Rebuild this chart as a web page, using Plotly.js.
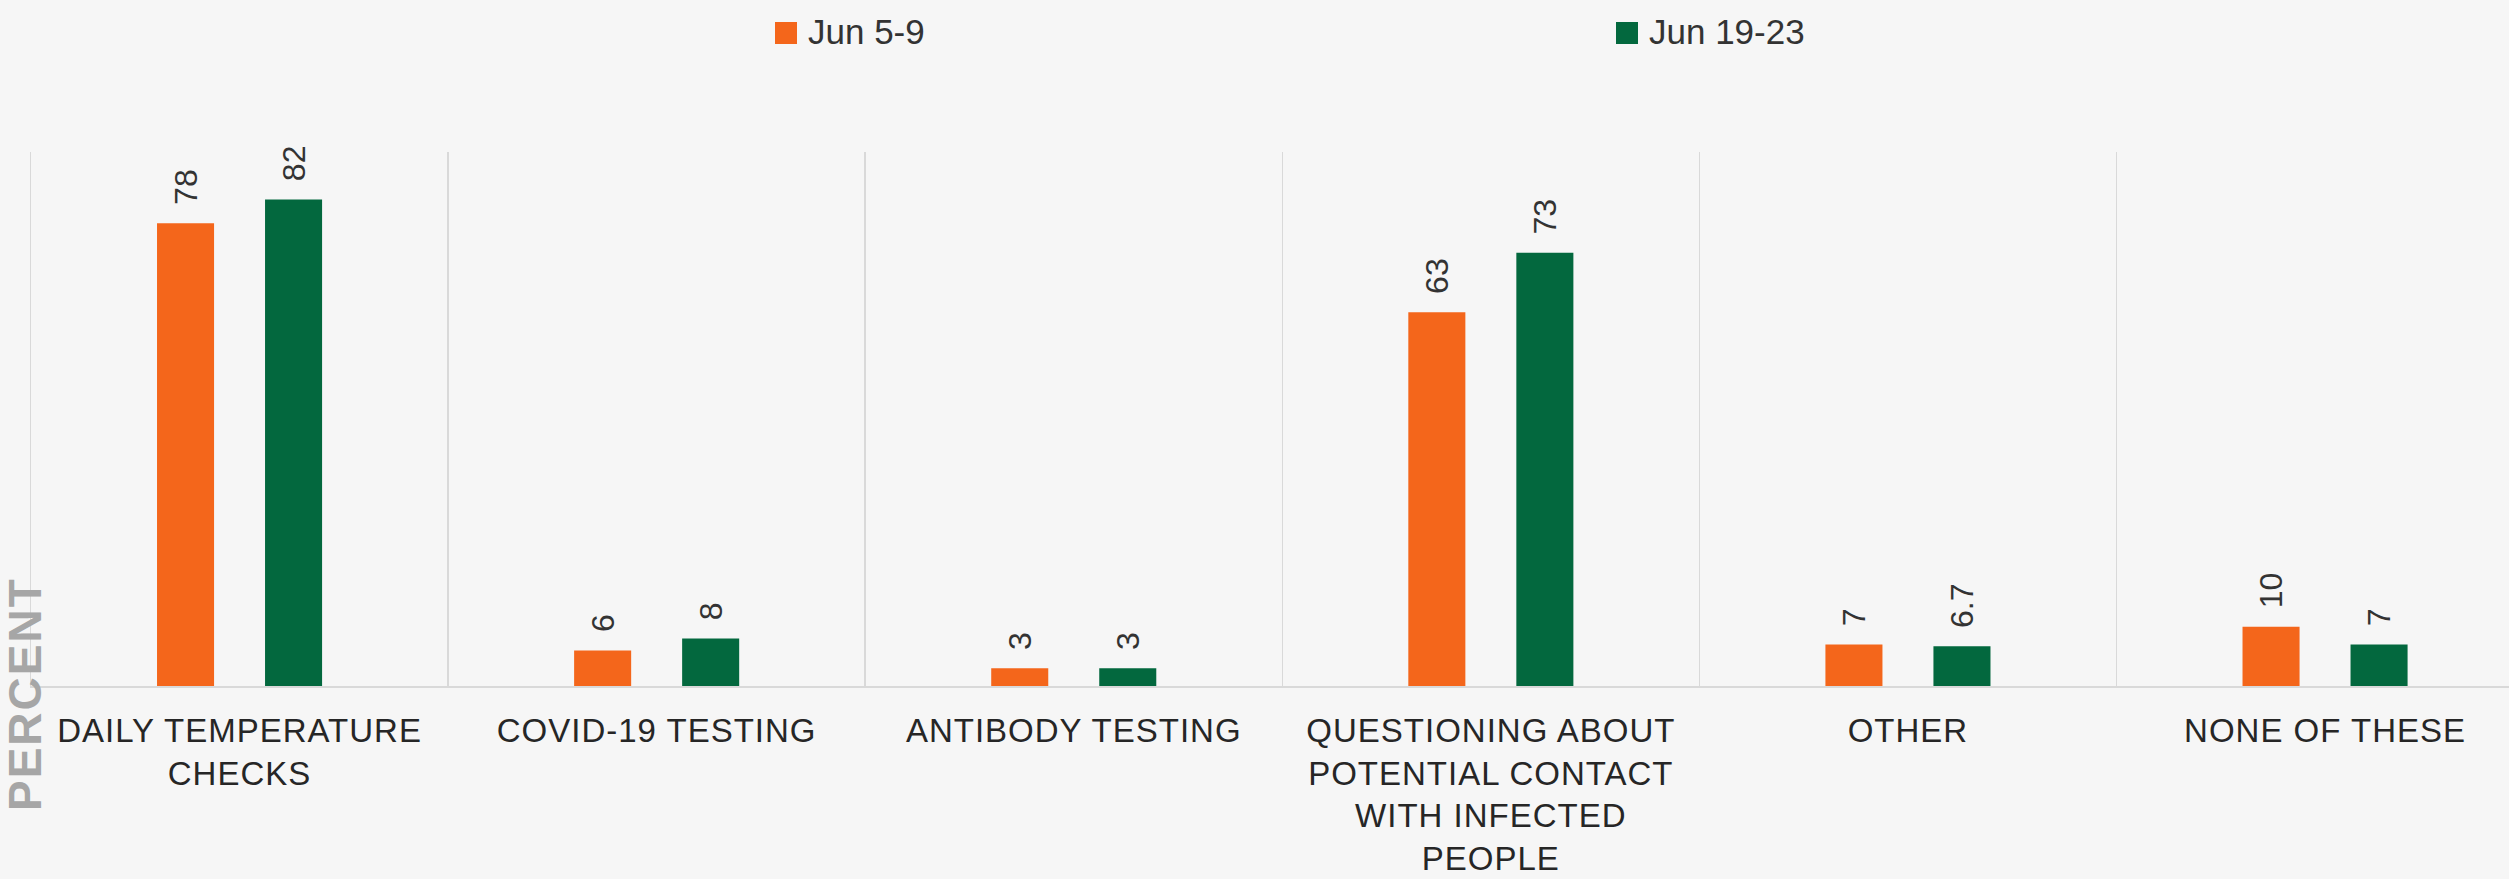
<!DOCTYPE html>
<html>
<head>
<meta charset="utf-8">
<script src="https://cdn.plot.ly/plotly-3.0.1.min.js"></script>
<style>
  html, body { margin: 0; padding: 0; background: #f6f6f6; }
  #chart { width: 2509px; height: 879px; }
  .xtick text { letter-spacing: 1px; }
  .annotation[data-index="0"] text { letter-spacing: 2px; }
</style>
</head>
<body>
<div id="chart"></div>
<script>
// ---- data ----
const categories = [
  'DAILY TEMPERATURE<br>CHECKS',
  'COVID-19 TESTING',
  'ANTIBODY TESTING',
  'QUESTIONING ABOUT<br>POTENTIAL CONTACT<br>WITH INFECTED<br>PEOPLE',
  'OTHER',
  'NONE OF THESE'
];
const seriesNames = ['Jun 5-9', 'Jun 19-23'];
const valuesJun5to9 = [78, 6, 3, 63, 7, 10];
const valuesJun19to23 = [82, 8, 3, 73, 6.7, 7];
const yAxisTitle = 'PERCENT';

// ---- styling ----
const seriesColors = ['#F4661B', '#03683E'];
const sans = "'Liberation Sans', Arial, sans-serif";
const W = 2509, H = 879, L = 31, R = 0, T = 152, B = 193;
const plotW = W - L - R, plotH = H - T - B;
const px2x = p => (p - L) / plotW;
const py2y = p => (H - B - p) / plotH;

const seriesValues = [valuesJun5to9, valuesJun19to23];
const traces = seriesValues.map((vals, i) => ({
  type: 'bar',
  name: seriesNames[i],
  x: categories,
  y: vals,
  marker: { color: seriesColors[i] },
  texttemplate: '\u00a0\u2009%{y}',
  textposition: 'outside',
  textangle: -90,
  constraintext: 'none',
  cliponaxis: false,
  textfont: { family: sans, size: 32, color: '#333333' },
  hoverinfo: 'x+y',
  showlegend: false
}));

// custom legend (large square swatches)
const legendItems = [
  { sq: 775, text: 806 },
  { sq: 1616, text: 1647 }
];
const shapes = legendItems.map((it, i) => ({
  type: 'rect', xref: 'paper', yref: 'paper',
  x0: px2x(it.sq), x1: px2x(it.sq + 22),
  y0: py2y(44), y1: py2y(22),
  fillcolor: seriesColors[i], line: { width: 0 }
}));

const annotations = [
  {
    text: yAxisTitle, xref: 'paper', yref: 'paper',
    x: px2x(25), y: py2y(694), xanchor: 'center', yanchor: 'middle',
    textangle: -90, showarrow: false,
    font: { family: sans, size: 46, color: '#a6a6a6', weight: 'bold' }
  },
  ...legendItems.map((it, i) => ({
    text: seriesNames[i], xref: 'paper', yref: 'paper',
    x: px2x(it.text), y: py2y(32), xanchor: 'left', yanchor: 'middle',
    showarrow: false,
    font: { family: sans, size: 35, color: '#333333' }
  }))
];

const layout = {
  width: W, height: H,
  margin: { l: L, r: R, t: T, b: B, pad: 0 },
  paper_bgcolor: '#f6f6f6',
  plot_bgcolor: 'rgba(0,0,0,0)',
  barmode: 'group',
  bargap: 0.482,
  bargroupgap: 0.472,
  showlegend: false,
  xaxis: {
    type: 'category',
    range: [-0.5, -0.5 + (W - L) / 417.1],
    tickson: 'boundaries',
    ticks: '',
    showgrid: true,
    gridcolor: '#d9d9d9',
    gridwidth: 1.5,
    showline: true,
    linecolor: '#d9d9d9',
    linewidth: 2,
    ticklabelstandoff: 14,
    tickfont: { family: sans, size: 33, color: '#262626' },
    fixedrange: true
  },
  yaxis: {
    range: [0, 90],
    showgrid: false,
    zeroline: false,
    showticklabels: false,
    ticks: '',
    showline: true,
    linecolor: '#d9d9d9',
    linewidth: 1.5,
    fixedrange: true
  },
  shapes: shapes,
  annotations: annotations
};

Plotly.newPlot('chart', traces, layout, { displayModeBar: false, staticPlot: true });
</script>
</body>
</html>
